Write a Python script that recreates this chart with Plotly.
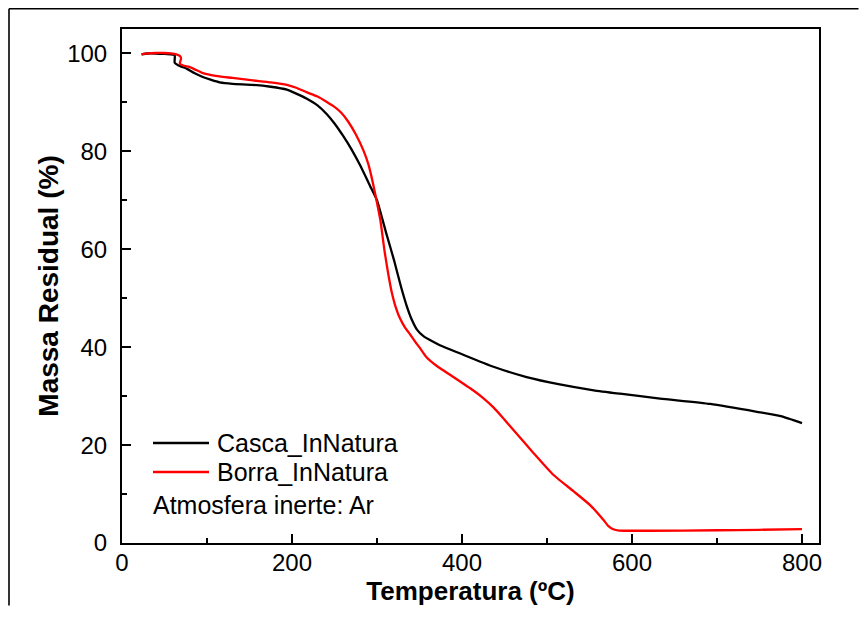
import plotly.graph_objects as go

# ---- data ----
casca_T = [23, 30, 40, 50, 58, 62, 62, 66, 70, 76, 85, 95, 105, 115, 130, 154, 175, 194,
           205, 217, 230, 241, 250, 260, 270, 280, 292, 300, 311, 320, 328, 335, 341, 347,
           355, 365, 374, 398, 437, 476, 515, 555, 586, 633, 692, 747, 775, 800]
casca_M = [99.8, 100.0, 100.0, 99.9, 99.8, 99.7, 98.1, 97.6, 97.3, 96.9, 96.0, 95.2, 94.6,
           94.1, 93.8, 93.6, 93.2, 92.6, 91.8, 90.8, 89.4, 87.6, 85.7, 83.2, 80.4, 77.2,
           72.9, 70.0, 63.2, 57.8, 52.5, 48.4, 45.6, 43.6, 42.2, 41.2, 40.4, 38.7, 36.0,
           33.9, 32.4, 31.2, 30.5, 29.5, 28.4, 26.8, 25.9, 24.5]

borra_T = [23, 30, 40, 50, 58, 64, 68, 69.5, 68, 72, 78, 85, 95, 105, 115, 130, 154, 175,
           194, 205, 217, 230, 241, 250, 258, 266, 275, 284, 290, 296, 300, 304, 309, 313,
           317, 322, 327, 333, 339, 345, 351, 358, 370, 390, 413, 425, 437, 448, 460, 484,
           507, 531, 551, 566, 572, 578, 585, 620, 700, 750, 800]
borra_M = [99.8, 100.0, 100.1, 100.1, 100.0, 99.8, 99.5, 99.0, 97.9, 97.55, 97.3, 96.8,
           96.0, 95.6, 95.3, 95.0, 94.5, 94.1, 93.6, 93.0, 92.1, 91.2, 90.1, 89.1, 87.9,
           86.1, 83.5, 80.2, 77.3, 72.9, 69.5, 65.9, 59.5, 55.2, 51.5, 48.2, 45.9, 44.0,
           42.6, 41.1, 39.7, 38.0, 36.2, 33.9, 31.2, 29.6, 27.7, 25.6, 23.2, 18.4, 14.0,
           10.6, 7.7, 4.8, 3.5, 2.8, 2.55, 2.5, 2.6, 2.7, 2.85]

series_names = ["Casca_InNatura", "Borra_InNatura"]
series_colors = ["#000000", "#ff0000"]
note_text = "Atmosfera inerte: Ar"
x_title = "Temperatura (ºC)"
y_title = "Massa Residual (%)"

FONT = "Liberation Sans, Arial, sans-serif"

fig = go.Figure()
for T, M, name, col in [(casca_T, casca_M, series_names[0], series_colors[0]),
                        (borra_T, borra_M, series_names[1], series_colors[1])]:
    fig.add_trace(go.Scatter(x=T, y=M, mode="lines", name=name, showlegend=False,
                             line=dict(color=col, width=2.3, shape="spline", smoothing=0.5)))

# page has an 8px body margin; figure is placed at (8,8)
OFF = 8
W, H = 867 - 2 * OFF, 598
# plot area on the page: x 122..819 px, y 29..543 px
L, T_ = 122 - OFF, 29 - OFF
R, B = W - (819 - OFF), H - (543 - OFF)
pw, ph = W - L - R, H - T_ - B

def px(x):  # page x -> paper
    return (x - OFF - L) / pw

def py(y):  # page y -> paper
    return (H - B - (y - OFF)) / ph

shapes = []
# outer frame (top and left lines)
shapes.append(dict(type="line", xref="paper", yref="paper", x0=px(9), x1=px(OFF + W - 0.5),
                   y0=py(8.8), y1=py(8.8), line=dict(color="black", width=1.6)))
shapes.append(dict(type="line", xref="paper", yref="paper", x0=px(9), x1=px(9),
                   y0=py(8.8), y1=py(OFF + H - 0.5), line=dict(color="black", width=1.6)))
# legend sample lines
for yy, col in [(443, series_colors[0]), (472, series_colors[1])]:
    shapes.append(dict(type="line", xref="paper", yref="paper", x0=px(153), x1=px(209),
                       y0=py(yy), y1=py(yy), line=dict(color=col, width=2.3)))

annotations = []
for yy, txt in [(443, series_names[0]), (472, series_names[1])]:
    annotations.append(dict(xref="paper", yref="paper", x=px(215), y=py(yy), text=txt,
                            showarrow=False, xanchor="left", yanchor="middle",
                            font=dict(family=FONT, size=25, color="black")))
annotations.append(dict(xref="paper", yref="paper", x=px(151), y=py(505), text=note_text,
                        showarrow=False, xanchor="left", yanchor="middle",
                        font=dict(family=FONT, size=25, color="black")))

axis_common = dict(showline=True, linecolor="black", linewidth=2, mirror=True,
                   ticks="inside", ticklen=9, tickwidth=2, tickcolor="black",
                   showgrid=False, zeroline=False,
                   tickfont=dict(family=FONT, size=24, color="black"))

fig.update_layout(
    width=W, height=H,
    margin=dict(l=L, r=R, t=T_, b=B, autoexpand=False),
    paper_bgcolor="white", plot_bgcolor="white",
    font=dict(family=FONT, color="black"),
    shapes=shapes, annotations=annotations,
    xaxis=dict(range=[0, 820], tickvals=[0, 200, 400, 600, 800],
               minor=dict(ticks="inside", ticklen=5, tickwidth=1.6, tickcolor="black",
                          tickvals=[100, 300, 500, 700]),
               ticklabelstandoff=-3,
               title=dict(text="<b>" + x_title + "</b>", standoff=6,
                          font=dict(family=FONT, size=26, color="black")),
               **axis_common),
    yaxis=dict(range=[0, 105], tickvals=[0, 20, 40, 60, 80, 100],
               minor=dict(ticks="inside", ticklen=5, tickwidth=1.6, tickcolor="black",
                          tickvals=[10, 30, 50, 70, 90]),
               ticklabelstandoff=8,
               title=dict(text="<b>" + y_title + "</b>", standoff=0,
                          font=dict(family=FONT, size=28, color="black")),
               **axis_common),
)

fig.write_html("out.html")
